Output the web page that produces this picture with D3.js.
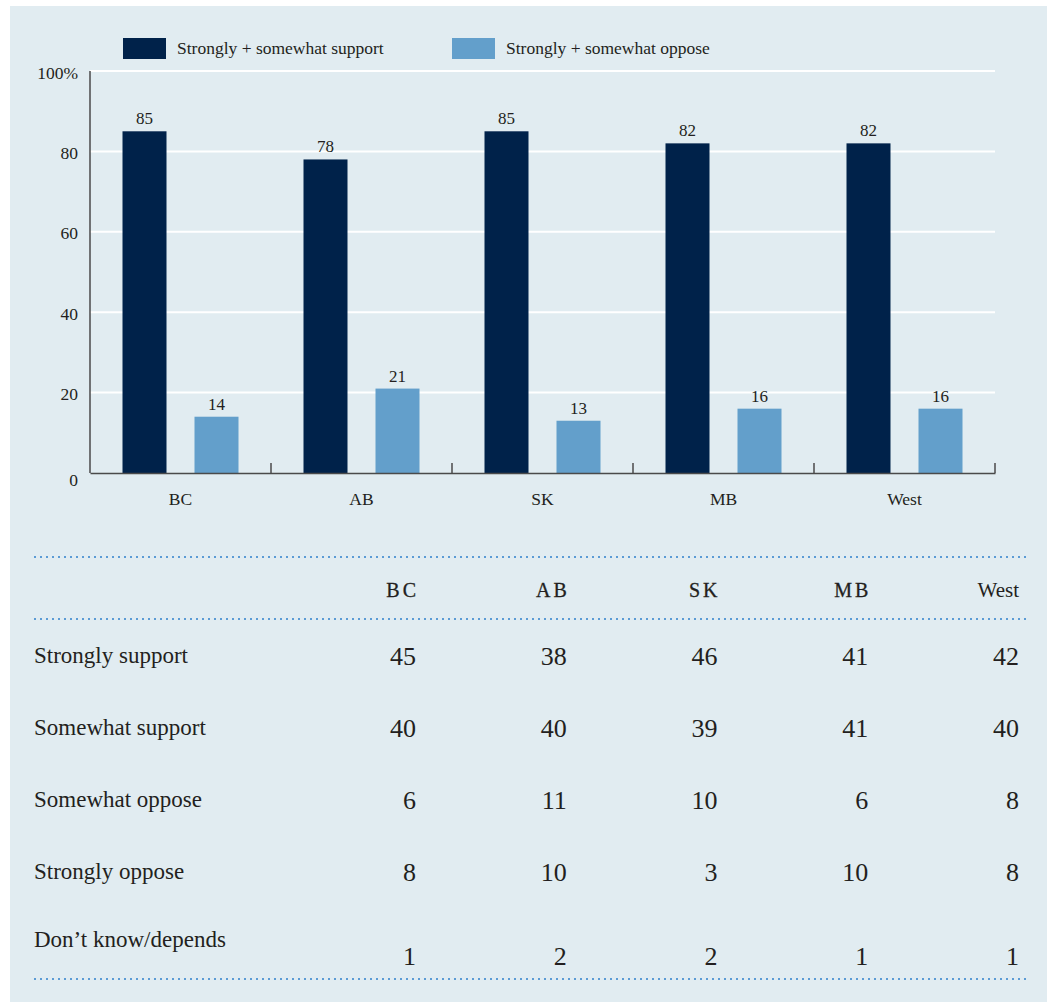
<!DOCTYPE html>
<html>
<head>
<meta charset="utf-8">
<script src="https://cdn.jsdelivr.net/npm/d3@7"></script>
<style>
  html, body { margin: 0; padding: 0; background: #ffffff; }
  svg { display: block; }
  text { font-family: "Liberation Serif", "Times New Roman", serif; fill: #231f20; }
</style>
</head>
<body>
<svg id="chart" width="1047" height="1002"></svg>
<script>
// Regions and survey results (percent)
const regions = ["BC", "AB", "SK", "MB", "West"];
const supportTotal = [85, 78, 85, 82, 82];
const opposeTotal = [14, 21, 13, 16, 16];
const yTicks = [0, 20, 40, 60, 80, 100];
const seriesNames = ["Strongly + somewhat support", "Strongly + somewhat oppose"];

// Detail table
const tableHeaders = ["BC", "AB", "SK", "MB", "West"];
const rowLabels = ["Strongly support", "Somewhat support", "Somewhat oppose", "Strongly oppose", "Don\u2019t know/depends"];
const stronglySupport = [45, 38, 46, 41, 42];
const somewhatSupport = [40, 40, 39, 41, 40];
const somewhatOppose = [6, 11, 10, 6, 8];
const stronglyOppose = [8, 10, 3, 10, 8];
const dontKnow = [1, 2, 2, 1, 1];

const COLORS = { support: "#00224a", oppose: "#639fcb", panel: "#e1ecf1", axis: "#4a4a4a", dots: "#5b9bd5" };

const svg = d3.select("#chart");

// Background panel
svg.append("rect").attr("x", 10).attr("y", 6).attr("width", 1037).attr("height", 996).attr("fill", COLORS.panel);

// ---- Bar chart ----
const plot = { left: 90, right: 995, top: 71, bottom: 473 };
const x = d3.scaleBand().domain(regions).range([plot.left, plot.right]).padding(0);
const sub = d3.scaleBand().domain(["support", "oppose"]).range([0, x.bandwidth()])
  .paddingInner(28 / 72).paddingOuter(32.5 / 72);
const y = d3.scaleLinear().domain([0, 100]).range([plot.bottom, plot.top]);

// white gridlines
svg.append("g").selectAll("line").data(yTicks.filter(d => d > 0)).join("line")
  .attr("x1", plot.left).attr("x2", plot.right)
  .attr("y1", d => y(d)).attr("y2", d => y(d))
  .attr("stroke", "#ffffff").attr("stroke-width", 2);

// y tick labels
const yAxis = svg.append("g").attr("transform", `translate(${plot.left},0)`)
  .call(d3.axisLeft(y).tickValues(yTicks).tickSize(0).tickPadding(12)
    .tickFormat(d => d === 100 ? "100%" : d));
yAxis.select(".domain").remove();
yAxis.selectAll("text")
  .style("font-family", "Liberation Serif, serif").style("font-size", "17.5px").attr("fill", "#231f20")
  .attr("dy", d => d === 0 ? "0.72em" : "0.4em");

// bars
const rows = regions.map((r, i) => ({ region: r, support: supportTotal[i], oppose: opposeTotal[i] }));
const groups = svg.append("g").selectAll("g").data(rows).join("g")
  .attr("transform", d => `translate(${x(d.region)},0)`);
["support", "oppose"].forEach(key => {
  groups.append("rect")
    .attr("x", sub(key)).attr("width", sub.bandwidth())
    .attr("y", d => y(d[key])).attr("height", d => y(0) - y(d[key]))
    .attr("fill", COLORS[key]);
  groups.append("text")
    .attr("x", sub(key) + sub.bandwidth() / 2).attr("y", d => y(d[key]) - 7)
    .attr("text-anchor", "middle").style("font-size", "17px")
    .text(d => d[key]);
});

// y axis line
svg.append("line").attr("x1", plot.left).attr("x2", plot.left)
  .attr("y1", plot.top).attr("y2", plot.bottom)
  .attr("stroke", COLORS.axis).attr("stroke-width", 1.5);

// x axis with category labels
const xAxis = svg.append("g").attr("transform", `translate(0,${plot.bottom})`)
  .call(d3.axisBottom(x).tickSize(0).tickPadding(20));
xAxis.select(".domain").attr("stroke", COLORS.axis).attr("stroke-width", 1.5);
xAxis.selectAll("text").style("font-family", "Liberation Serif, serif").style("font-size", "17.5px").attr("fill", "#231f20");

// category boundary ticks
svg.append("g").selectAll("line").data(regions).join("line")
  .attr("x1", d => x(d) + x.bandwidth()).attr("x2", d => x(d) + x.bandwidth())
  .attr("y1", plot.bottom - 10).attr("y2", plot.bottom)
  .attr("stroke", COLORS.axis).attr("stroke-width", 1.5);

// legend
const legendX = [123, 452];
const legend = svg.append("g").selectAll("g").data(seriesNames).join("g")
  .attr("transform", (d, i) => `translate(${legendX[i]},38)`);
legend.append("rect").attr("width", 43).attr("height", 21)
  .attr("fill", (d, i) => i === 0 ? COLORS.support : COLORS.oppose);
legend.append("text").attr("x", 54).attr("y", 15.5).style("font-size", "17.5px").text(d => d);

// ---- Table ----
const colRight = d3.scalePoint().domain(tableHeaders).range([416, 1019]);
const tableValues = [stronglySupport, somewhatSupport, somewhatOppose, stronglyOppose, dontKnow];
const rowY = d3.scaleLinear().domain([0, 4]).range([665, 953]);

function dotted(yPos) {
  svg.append("line").attr("x1", 34).attr("x2", 1028).attr("y1", yPos).attr("y2", yPos)
    .attr("stroke", COLORS.dots).attr("stroke-width", 2).attr("stroke-dasharray", "2 4");
}
dotted(557); dotted(619); dotted(979);

svg.append("g").selectAll("text").data(tableHeaders).join("text")
  .attr("x", d => colRight(d) + (d === "West" ? 0 : 3)).attr("y", 597)
  .attr("text-anchor", "end")
  .style("font-size", d => d === "West" ? "21px" : "20px")
  .style("letter-spacing", d => d === "West" ? "0px" : "3px")
  .style("stroke", d => d === "West" ? "none" : "#231f20")
  .style("stroke-width", "0.3px")
  .text(d => d);

const tbl = svg.append("g");
rowLabels.forEach((label, r) => {
  const last = r === rowLabels.length - 1;
  tbl.append("text").attr("x", 34).attr("y", rowY(r) - (last ? 6 : 2))
    .style("font-size", "23px").text(label);
  tbl.append("g").selectAll("text").data(tableValues[r]).join("text")
    .attr("x", (d, i) => colRight(tableHeaders[i])).attr("y", rowY(r) + (last ? 12 : 0))
    .attr("text-anchor", "end").style("font-size", "26px")
    .text(d => d);
});
</script>
</body>
</html>
